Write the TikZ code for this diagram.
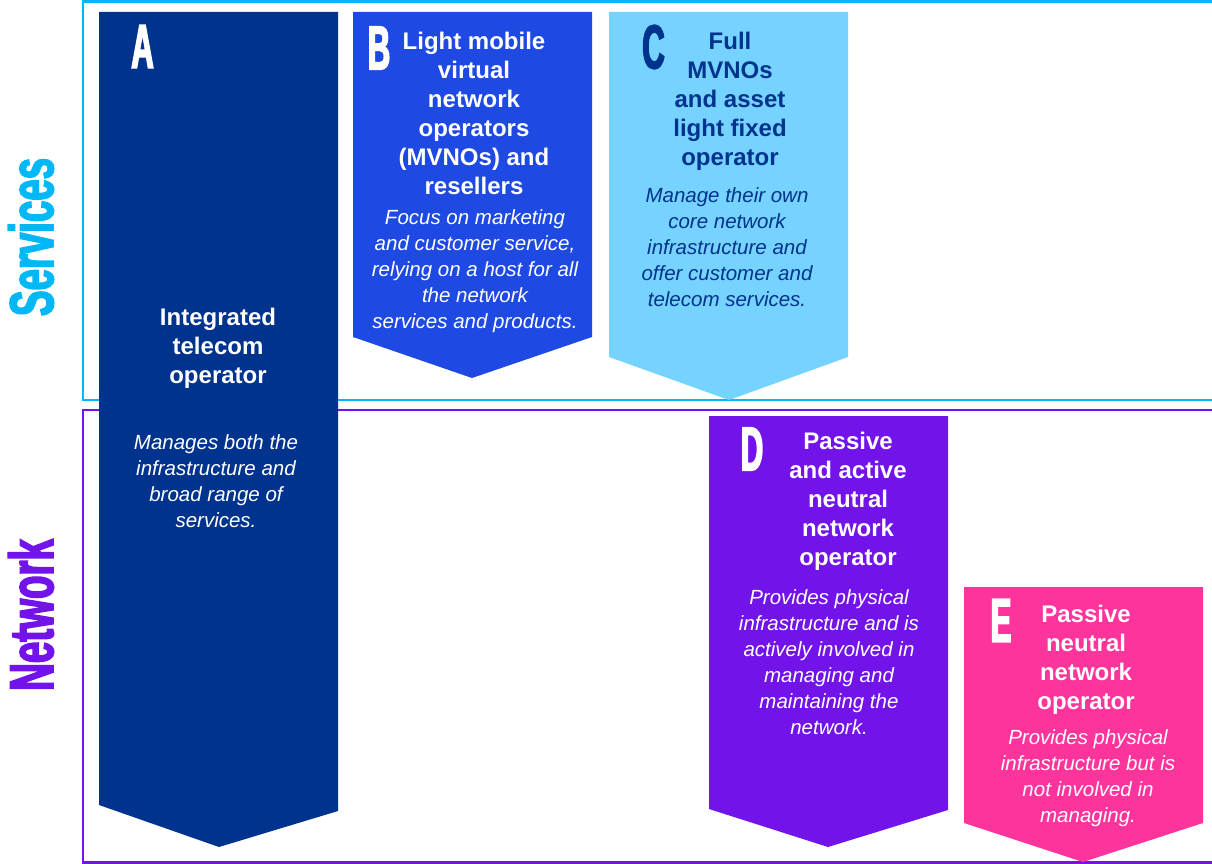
\documentclass[tikz,border=0pt]{standalone}
\usepackage{fontspec}
\setmainfont{Liberation Sans}
\newfontfamily\condfont{Liberation Sans}[FakeStretch=0.5, FakeBold=2.5]
\newfontfamily\labfont{Liberation Sans}[FakeStretch=0.62, FakeBold=2.5]
\definecolor{kpmgnavy}{HTML}{00338D}
\definecolor{kpmgcobalt}{HTML}{1E49E2}
\definecolor{kpmglight}{HTML}{76D2FF}
\definecolor{kpmgpurple}{HTML}{7213EA}
\definecolor{kpmgpink}{HTML}{FD349C}
\definecolor{kpmgcyan}{HTML}{00B8F5}
\tikzset{
  letterstyle/.style={inner sep=0pt, anchor=center, font=\condfont\bfseries\fontsize{62}{62}\selectfont},
  titlestyle/.style={inner sep=0pt, anchor=center, align=center, font=\bfseries\fontsize{24}{29}\selectfont},
  descstyle/.style={inner sep=0pt, anchor=center, align=center, font=\itshape\fontsize{20.5}{26}\selectfont},
  sidelabel/.style={inner sep=0pt, anchor=center, rotate=90, font=\labfont\bfseries\fontsize{62}{62}\selectfont},
  framestyle/.style={line width=2.5pt}
}
\begin{document}
\begin{tikzpicture}[x=1pt,y=-1pt]
\useasboundingbox (0,0) rectangle (1212,864);
% frames
\draw[framestyle, kpmgcyan] (1214,1.3) -- (83,1.3) -- (83,400) -- (1214,400);
\draw[framestyle, kpmgpurple] (1214,410) -- (83,410) -- (83,862.5) -- (1214,862.5);
% side labels
\node[sidelabel, text=kpmgcyan] (services) at (31,237) {Services};
\node[sidelabel, text=kpmgpurple] (network) at (31,615) {Network};
% chevron boxes
\fill[kpmgnavy] (99,12) -- (338,12) -- (338,811) -- (219,847) -- (99,805) -- cycle;
\fill[kpmgcobalt] (353,12) -- (592,12) -- (592,337) -- (472,378) -- (353,337) -- cycle;
\fill[kpmglight] (609,12) -- (848,12) -- (848,357) -- (729,400) -- (609,357) -- cycle;
\fill[kpmgpurple] (709,416) -- (948,416) -- (948,810) -- (828,847) -- (709,809) -- cycle;
\fill[kpmgpink] (964,587) -- (1203,587) -- (1203,823) -- (1083,862) -- (964,823) -- cycle;
% A
\node[letterstyle, text=white] (la) at (142.5,46.5) {A};
\node[titlestyle, text=white] (ta) at (218,348) {Integrated\\telecom\\operator};
\node[descstyle, text=white] (da) at (216,481) {Manages both the\\infrastructure and\\broad range of\\services.};
% B
\node[letterstyle, text=white] (lb) at (379,48) {B};
\node[titlestyle, text=white] (tb) at (474,113) {Light mobile\\virtual\\network\\operators\\(MVNOs) and\\resellers};
\node[descstyle, text=white] (db) at (475,271.5) {Focus on marketing\\and customer service,\\relying on a host for all\\the network\\services and products.};
% C
\node[letterstyle, text=kpmgnavy] (lc) at (653.5,47) {C};
\node[titlestyle, text=kpmgnavy] (tc) at (730,101) {Full\\MVNOs\\and asset\\light fixed\\operator};
\node[descstyle, text=kpmgnavy] (dc) at (727,247.5) {Manage their own\\core network\\infrastructure and\\offer customer and\\telecom services.};
% D
\node[letterstyle, text=white] (ld) at (752,449) {D};
\node[titlestyle, text=white] (td) at (848,501) {Passive\\and active\\neutral\\network\\operator};
\node[descstyle, text=white] (dd) at (829,662.5) {Provides physical\\infrastructure and is\\actively involved in\\managing and\\maintaining the\\network.};
% E
\node[letterstyle, text=white] (le) at (1001,620.5) {E};
\node[titlestyle, text=white] (te) at (1086,660) {Passive\\neutral\\network\\operator};
\node[descstyle, text=white] (de) at (1088,778) {Provides physical\\infrastructure but is\\not involved in\\managing.};
\end{tikzpicture}
\end{document}
